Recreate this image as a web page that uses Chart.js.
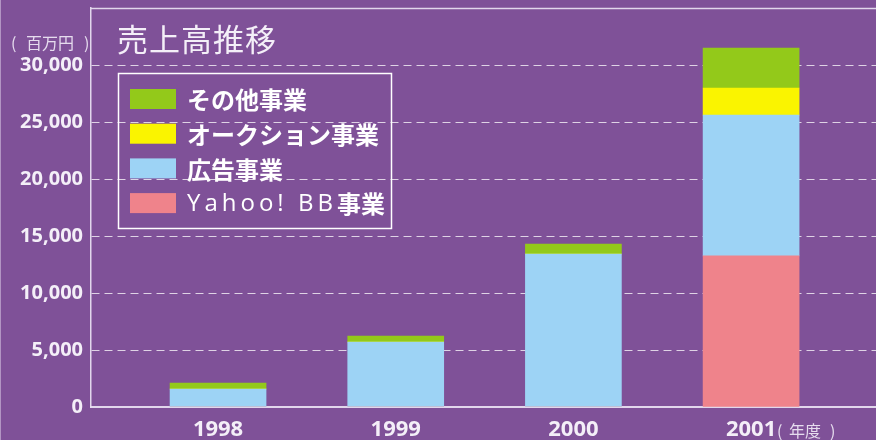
<!DOCTYPE html>
<html lang="ja">
<head>
<meta charset="utf-8">
<title>売上高推移</title>
<script src="https://cdn.jsdelivr.net/npm/chart.js@4.4.0/dist/chart.umd.min.js"></script>
<style>
  html, body { margin: 0; padding: 0; background: #7f5198; }
  #wrap { width: 876px; height: 440px; }
</style>
</head>
<body>
<div id="wrap"><canvas id="salesChart"></canvas></div>
<script>
// 売上高 (百万円)
const years = ['1998', '1999', '2000', '2001'];
const yahooBB = [0, 0, 0, 13250];
const ads = [1580, 5700, 13420, 12360];
const auction = [0, 0, 0, 2370];
const others = [525, 530, 880, 3510];
const yTicks = [0, 5000, 10000, 15000, 20000, 25000, 30000];

const BG = '#7f5198';
const LINE = 'rgba(232, 222, 240, 0.95)';
const TEXT = '#f4eff8';
const SOFT = '#e6dcee';
const latin = "'Open Sans', 'Noto Sans CJK JP', sans-serif";
const jp = "'Noto Sans CJK JP', sans-serif";

function points(values) {
    return values.map((v, i) => ({ x: i, y: v }));
}

// background, frame, titles and the boxed legend
const decorPlugin = {
    id: 'decor',
    beforeDraw(chart) {
        const ctx = chart.ctx;
        ctx.save();
        ctx.fillStyle = BG;
        ctx.fillRect(0, 0, chart.width, chart.height);
        // faint left edge
        ctx.fillStyle = 'rgba(220, 205, 232, 0.55)';
        ctx.fillRect(0, 0, 1, chart.height);
        ctx.restore();
    },
    afterDraw(chart) {
        const ctx = chart.ctx;
        const area = chart.chartArea;
        ctx.save();

        // top frame line
        ctx.strokeStyle = LINE;
        ctx.lineWidth = 1.5;
        ctx.beginPath();
        ctx.moveTo(area.left, area.top + 0.5);
        ctx.lineTo(chart.width, area.top + 0.5);
        ctx.stroke();

        // title
        ctx.fillStyle = TEXT;
        ctx.textBaseline = 'alphabetic';
        ctx.font = `31px ${jp}`;
        ctx.letterSpacing = '1px';
        ctx.fillText('売上高推移', 117, 51);
        ctx.letterSpacing = '0px';

        // units
        ctx.fillStyle = SOFT;
        ctx.textBaseline = 'middle';
        ctx.font = `16px ${jp}`;
        ctx.fillText('(', 11, 43);
        ctx.fillText('百万円', 26, 43);
        ctx.fillText(')', 84, 43);

        const xs = chart.scales.x;
        const lastX = xs.getPixelForValue(years.length - 1);
        ctx.fillText('(', lastX + 26, 431);
        ctx.fillText('年度', lastX + 38, 431);
        ctx.fillText(')', lastX + 79, 431);

        // legend box
        ctx.strokeStyle = '#ffffff';
        ctx.lineWidth = 1.5;
        ctx.strokeRect(118.5, 73.5, 273, 155);

        const sets = chart.data.datasets.slice().reverse();
        sets.forEach((ds, i) => {
            const y = 89 + i * 34.7;
            ctx.fillStyle = ds.backgroundColor;
            ctx.fillRect(130, y, 46, 20);
            ctx.fillStyle = '#ffffff';
            const m = ds.label.match(/^([\x00-\x7f]+)(.*)$/);
            let tx = 187;
            if (m) {
                ctx.font = `24px ${latin}`;
                ctx.letterSpacing = '4px';
                ctx.fillText(m[1], tx, y + 11);
                tx += ctx.measureText(m[1]).width;
                ctx.letterSpacing = '0px';
                ctx.font = `bold 24px ${jp}`;
                ctx.fillText(m[2], tx, y + 11);
            } else {
                ctx.font = `bold 24px ${jp}`;
                ctx.fillText(ds.label, tx, y + 11);
            }
        });
        ctx.restore();
    }
};

const ctx = document.getElementById('salesChart').getContext('2d');
const salesChart = new Chart(ctx, {
    type: 'bar',
    data: {
        datasets: [{
            label: 'Yahoo! BB事業',
            data: points(yahooBB),
            backgroundColor: '#ef838b'
        }, {
            label: '広告事業',
            data: points(ads),
            backgroundColor: '#9dd3f5'
        }, {
            label: 'オークション事業',
            data: points(auction),
            backgroundColor: '#faf400'
        }, {
            label: 'その他事業',
            data: points(others),
            backgroundColor: '#93c91a'
        }]
    },
    options: {
        responsive: true,
        maintainAspectRatio: false,
        animation: false,
        layout: {
            padding: { top: 8, right: 0, bottom: 0, left: 0 }
        },
        datasets: {
            bar: {
                barThickness: 96,
                borderWidth: 0
            }
        },
        plugins: {
            legend: { display: false },
            tooltip: { enabled: false }
        },
        scales: {
            x: {
                type: 'linear',
                stacked: true,
                offset: false,
                min: -0.715,
                max: 3.703,
                afterBuildTicks: scale => {
                    scale.ticks = years.map((_, i) => ({ value: i }));
                },
                afterFit: scale => {
                    scale.height = 33;
                    scale.paddingLeft = 0;
                    scale.paddingRight = 0;
                },
                grid: { display: false },
                border: { display: true, color: LINE, width: 2 },
                ticks: {
                    color: TEXT,
                    padding: 2,
                    font: { family: latin, size: 22, weight: 'bold' },
                    callback: value => years[value]
                }
            },
            y: {
                stacked: true,
                min: 0,
                max: 35000,
                z: 1,
                afterBuildTicks: scale => {
                    scale.ticks = yTicks.map(v => ({ value: v }));
                },
                afterFit: scale => {
                    scale.width = 91;
                    scale.paddingTop = 0;
                    scale.paddingBottom = 0;
                },
                grid: {
                    drawTicks: false,
                    lineWidth: 1,
                    color: c => (c.tick && c.tick.value === 0) ? 'rgba(0,0,0,0)' : 'rgba(255, 255, 255, 0.75)'
                },
                border: { display: true, color: LINE, width: 1.5, dash: [8, 5] },
                ticks: {
                    color: TEXT,
                    padding: 8,
                    font: { family: latin, size: 20, weight: 'bold' },
                    callback: value => value.toLocaleString('en-US')
                }
            }
        }
    },
    plugins: [decorPlugin]
});
</script>
</body>
</html>
